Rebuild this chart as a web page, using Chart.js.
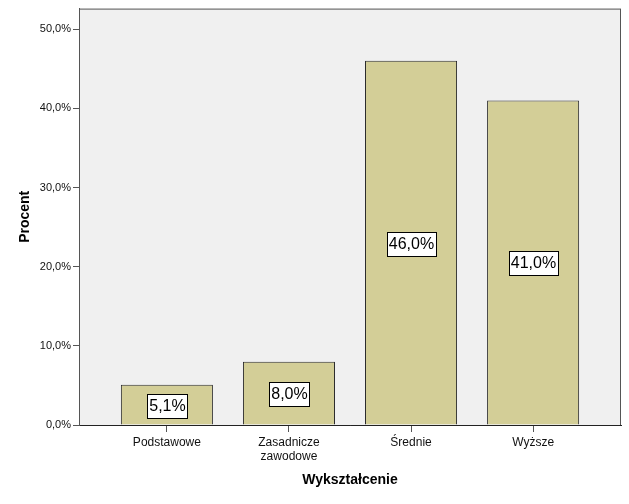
<!DOCTYPE html>
<html>
<head>
<meta charset="utf-8">
<script src="https://cdn.jsdelivr.net/npm/chart.js@4/dist/chart.umd.min.js"></script>
<style>
  body { margin: 0; background: #fff; }
  canvas { display: block; }
</style>
</head>
<body>
<canvas id="chart" width="629" height="504"></canvas>
<script>
// Wykształcenie - procent
const categories = [['Podstawowe'], ['Zasadnicze', 'zawodowe'], ['Średnie'], ['Wyższe']]
const percents = [5.1, 8.0, 46.0, 41.0]
const yTicks = [0, 10, 20, 30, 40, 50]

const fmt = v => v.toFixed(1).replace('.', ',') + '%'

// plot frame and grey background
const framePlugin = {
    id: 'frame',
    beforeDraw(chart){
        const {ctx, chartArea: a} = chart
        ctx.save()
        ctx.fillStyle = '#f0f0f0'
        ctx.fillRect(a.left, a.top, a.right - a.left, a.bottom - a.top)
        ctx.strokeStyle = '#555'
        ctx.lineWidth = 1
        ctx.strokeRect(a.left + 0.5, a.top + 0.5, a.right - a.left - 1, a.bottom - a.top)
        ctx.restore()
    }
}

// boxed value labels in the middle of each bar
const boxLabels = {
    id: 'boxLabels',
    afterDatasetsDraw(chart){
        const {ctx} = chart
        const meta = chart.getDatasetMeta(0)
        ctx.save()
        ctx.font = '16px "Liberation Sans", Arial, sans-serif'
        ctx.textAlign = 'center'
        ctx.textBaseline = 'middle'
        meta.data.forEach((bar, i) => {
            const txt = fmt(percents[i])
            const w = Math.round(ctx.measureText(txt).width + 4)
            const h = 24
            const cx = Math.round(bar.x)
            const cy = Math.round((bar.y + bar.base) / 2) + 1
            const x0 = Math.round(cx - w / 2)
            const y0 = Math.round(cy - h / 2)
            ctx.fillStyle = '#fff'
            ctx.fillRect(x0, y0, w, h)
            ctx.strokeStyle = '#000'
            ctx.lineWidth = 1
            ctx.strokeRect(x0 + 0.5, y0 + 0.5, w, h)
            ctx.fillStyle = '#000'
            ctx.fillText(txt, cx + 0.5, cy + 1)
        })
        ctx.restore()
    }
}

const ctx = document.getElementById('chart').getContext('2d')
const myChart = new Chart(ctx, {
    type: 'bar',
    data: {
        datasets: [{
            data: percents.map((p, i) => ({x: i, y: p})),
            backgroundColor: 'rgb(211, 206, 151)',
            borderColor: '#2a2a2a',
            borderWidth: 1,
            borderSkipped: 'bottom',
            barPercentage: 0.754,
            categoryPercentage: 1
        }]
    },
    options: {
        responsive: false,
        devicePixelRatio: 1,
        animation: false,
        layout: { padding: { top: 7, right: 8, left: 0, bottom: 0 } },
        plugins: {
            legend: { display: false },
            tooltip: { enabled: false }
        },
        scales: {
            x: {
                type: 'linear',
                min: -0.72,
                max: 3.72,
                offset: false,
                afterFit: s => { s.height = 79 },
                afterBuildTicks: s => { s.ticks = categories.map((c, i) => ({value: i})) },
                grid: { offset: false, drawOnChartArea: false, drawTicks: true, tickLength: 7, color: '#555' },
                border: { display: true, color: '#222' },
                ticks: {
                    autoSkip: false,
                    maxRotation: 0,
                    padding: 4,
                    color: '#111',
                    font: { family: '"Liberation Sans", Arial, sans-serif', size: 12, lineHeight: 1.15 },
                    callback: v => categories[Math.round(v)] || ''
                },
                title: {
                    display: true,
                    text: 'Wykształcenie',
                    color: '#000',
                    font: { family: '"Liberation Sans", Arial, sans-serif', size: 14, weight: 'bold' },
                    padding: { top: 0, bottom: 15 }
                }
            },
            y: {
                min: 0,
                max: 52.6,
                afterFit: s => { s.width = 79 },
                afterBuildTicks: s => { s.ticks = yTicks.map(v => ({value: v})) },
                grid: { drawOnChartArea: false, drawTicks: true, tickLength: 6, color: '#555' },
                border: { display: true, color: '#555' },
                ticks: {
                    padding: 2,
                    color: '#111',
                    font: { family: '"Liberation Sans", Arial, sans-serif', size: 11 },
                    callback: v => fmt(v)
                },
                title: {
                    display: true,
                    text: 'Procent',
                    color: '#000',
                    font: { family: '"Liberation Sans", Arial, sans-serif', size: 14, weight: 'bold' },
                    padding: { top: 17, bottom: 0 }
                }
            }
        }
    },
    plugins: [framePlugin, boxLabels]
})
</script>
</body>
</html>
